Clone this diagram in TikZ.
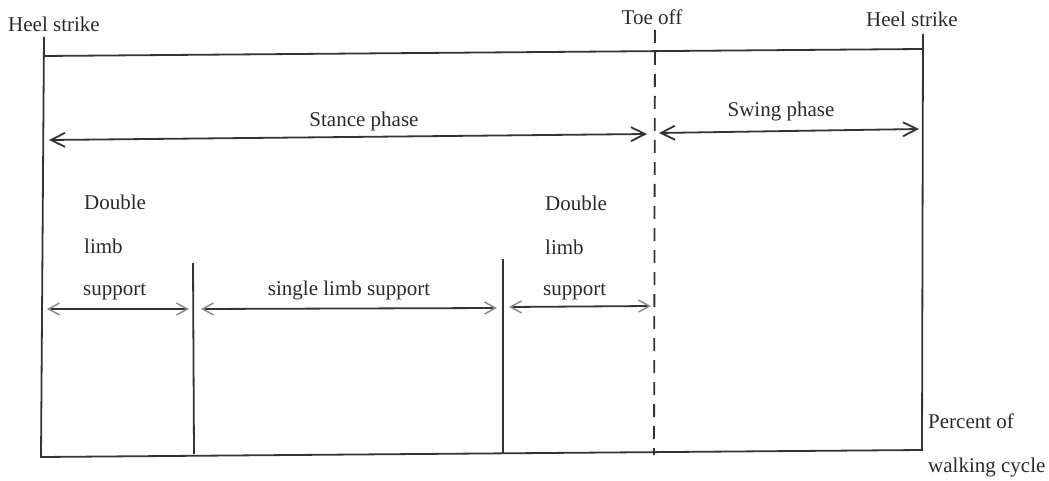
\documentclass[tikz,border=0pt]{standalone}
\usepackage{fontspec}
\setmainfont{Liberation Serif}
\usetikzlibrary{arrows.meta}
\definecolor{ink}{HTML}{333333}
\definecolor{txt}{HTML}{2A2A2A}
\definecolor{tipgray}{HTML}{8C8C8C}
\tikzset{
  frame/.style={draw=ink, line width=1.8pt},
  toeline/.style={draw=ink, line width=1.8pt, dash pattern=on 13pt off 9pt},
  phasearrow/.style={draw=ink, line width=1.8pt,
    {Straight Barb[length=14pt,width=14pt,line width=1.8pt]}-{Straight Barb[length=14pt,width=14pt,line width=1.8pt]}},
  supparrow/.style={draw=ink, line width=1.8pt,
    {Straight Barb[length=11pt,width=12pt,line width=1.5pt,color=tipgray]}-{Straight Barb[length=11pt,width=12pt,line width=1.5pt,color=tipgray]}},
  lbl/.style={text=txt, font=\fontsize{21}{24}\selectfont, inner sep=0pt},
}
\begin{document}
\begin{tikzpicture}[x=1pt,y=-1pt]
\useasboundingbox (0,0) rectangle (1049,481);

% event markers
\coordinate (hsLtop) at (44,37);
\coordinate (hsLbot) at (41,457);
\coordinate (hsRtop) at (923,34);
\coordinate (hsRbot) at (922,450);
\coordinate (toetop) at (655,30);
\coordinate (toebot) at (654,455);
\coordinate (m1top) at (193,263);
\coordinate (m1bot) at (194,454);
\coordinate (m2top) at (503,259);
\coordinate (m2bot) at (503,453);
\coordinate (topL) at (44,56);
\coordinate (topR) at (922,49);

\draw[frame] (hsLtop) -- (hsLbot) -- (hsRbot) -- (hsRtop);
\draw[frame] (topL) -- (topR);
\draw[frame] (m1top) -- (m1bot);
\draw[frame] (m2top) -- (m2bot);
\draw[toeline] (toetop) -- (toebot);

% phase arrows
\coordinate (stA) at (49,140);
\coordinate (stB) at (647,134);
\coordinate (swA) at (659,133);
\coordinate (swB) at (919,129);
\draw[phasearrow] (stA) -- (stB);
\draw[phasearrow] (swA) -- (swB);

% support arrows
\coordinate (d1A) at (47,309);
\coordinate (d1B) at (189,309);
\coordinate (sA) at (201,309);
\coordinate (sB) at (497,308);
\coordinate (d2A) at (509,307);
\coordinate (d2B) at (651,306);
\draw[supparrow] (d1A) -- (d1B);
\draw[supparrow] (sA) -- (sB);
\draw[supparrow] (d2A) -- (d2B);

% labels
\node[lbl, anchor=base] (hsL) at (54,32) {Heel strike};
\node[lbl, anchor=base] (toe) at (652,25) {Toe off};
\node[lbl, anchor=base] (hsR) at (912,27) {Heel strike};
\node[lbl, anchor=base] (stance) at (364,127) {Stance phase};
\node[lbl, anchor=base] (swing) at (781,117) {Swing phase};
\node[lbl, anchor=base west] (dbl1) at (84,210) {Double};
\node[lbl, anchor=base west] (limb1) at (84,253) {limb};
\node[lbl, anchor=base west] (sup1) at (83,295) {support};
\node[lbl, anchor=base] (single) at (349,295) {single limb support};
\node[lbl, anchor=base west] (dbl2) at (545,211) {Double};
\node[lbl, anchor=base west] (limb2) at (545,254) {limb};
\node[lbl, anchor=base west] (sup2) at (543,295) {support};
\node[lbl, anchor=base west] (pct) at (928,428) {Percent of};
\node[lbl, anchor=base west] (walk) at (928,472) {walking cycle};
\end{tikzpicture}
\end{document}
